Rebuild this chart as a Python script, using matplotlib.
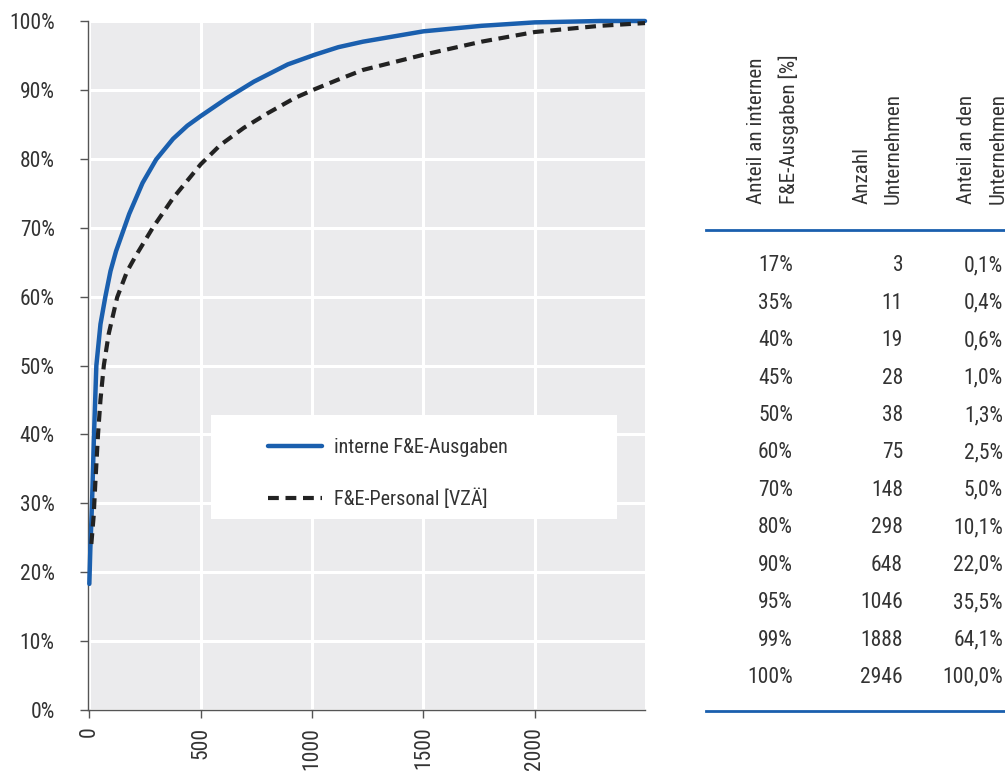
import matplotlib
matplotlib.use("Agg")
import matplotlib.pyplot as plt
from matplotlib import font_manager
from matplotlib.patches import Rectangle
from matplotlib.lines import Line2D

# pick a condensed face if one is installed
_names = {f.name for f in font_manager.fontManager.ttflist}
_cond = [f for f in font_manager.fontManager.ttflist
         if f.name == "DejaVu Sans" and "condensed" in str(f.stretch).lower()]
FAMILY = None
for cand in ["Roboto Condensed", "Open Sans Condensed", "Liberation Sans Narrow",
             "Arial Narrow", "Noto Sans Condensed"]:
    if cand in _names:
        FAMILY = cand
        break
STRETCH = "normal"
if FAMILY is None:
    FAMILY = "DejaVu Sans"
    if _cond:
        STRETCH = "condensed"
plt.rcParams['font.family'] = [FAMILY, 'DejaVu Sans']
plt.rcParams['font.stretch'] = STRETCH

# ---- data ----
spend_x = [0, 4.5, 12, 21, 31.5, 50, 72, 95, 120, 179, 239, 300, 376, 440, 500, 618,
           739, 891, 1012, 1118, 1229, 1500, 1761, 2000, 2293, 2495]
spend_y = [18.3, 23.4, 30, 40, 50, 56, 60, 63.7, 66.6, 72.0, 76.5, 79.9, 82.9, 84.8, 86.2,
           88.8, 91.2, 93.7, 95.1, 96.2, 97.0, 98.5, 99.3, 99.8, 100, 100]

staff_x = [9, 19.5, 27, 39, 50, 65, 87, 125, 170, 210, 285, 376, 500, 588, 694, 800, 921,
           1012, 1118, 1229, 1500, 1761, 2000, 2293, 2495]
staff_y = [24.1, 28.2, 33, 40, 45, 50, 54.6, 59.9, 63.7, 66.0, 70.0, 74.3, 79.2, 82.0, 84.5,
           86.6, 88.8, 90.1, 91.5, 92.9, 95.1, 97.0, 98.4, 99.3, 99.7]

series_labels = ["interne F&E-Ausgaben", "F&E-Personal [VZÄ]"]

y_ticks = [0, 10, 20, 30, 40, 50, 60, 70, 80, 90, 100]
y_ticklabels = ["0%", "10%", "20%", "30%", "40%", "50%", "60%", "70%", "80%", "90%", "100%"]
x_ticks = [0, 500, 1000, 1500, 2000]

tbl_header = ["Anteil an internen\nF&E-Ausgaben [%]", "Anzahl\nUnternehmen",
              "Anteil an den\nUnternehmen"]
tbl_share = ["17%", "35%", "40%", "45%", "50%", "60%", "70%", "80%", "90%", "95%", "99%", "100%"]
tbl_count = [3, 11, 19, 28, 38, 75, 148, 298, 648, 1046, 1888, 2946]
tbl_pct = ["0,1%", "0,4%", "0,6%", "1,0%", "1,3%", "2,5%", "5,0%", "10,1%", "22,0%",
           "35,5%", "64,1%", "100,0%"]

# ---- figure ----
W, H = 1005, 773
fig = plt.figure(figsize=(W / 100, H / 100), dpi=100)
ax = fig.add_axes([88 / W, (H - 710) / H, (645 - 88) / W, (710 - 21) / H])

BLUE = "#1a5fae"
DARK = "#222222"
TXT = "#333333"
FS = 15.5
ax.set_facecolor("#ebebed")
ax.set_xlim(-6, 2495)
ax.set_ylim(0, 100)
ax.grid(True, color="white", linewidth=2.2)
ax.set_axisbelow(True)
for s in ["top", "right"]:
    ax.spines[s].set_visible(False)
for s in ["left", "bottom"]:
    ax.spines[s].set_color("#555555")
    ax.spines[s].set_linewidth(1.0)

ax.set_yticks(y_ticks)
ax.set_yticklabels(y_ticklabels)
ax.set_xticks(x_ticks)
ax.set_xticklabels([str(v) for v in x_ticks], rotation=90)
ax.tick_params(axis="both", colors="#555555", labelcolor=TXT, labelsize=FS,
               length=6, width=1.0)
ax.tick_params(axis="x", pad=6)
ax.tick_params(axis="y", pad=18)

ax.plot(spend_x, spend_y, color=BLUE, linewidth=3.2, solid_capstyle="round",
        solid_joinstyle="round", zorder=3, clip_on=False)
ax.plot(staff_x, staff_y, color=DARK, linewidth=3.0, dashes=(2.6, 1.6),
        dash_capstyle="butt", zorder=3, clip_on=False)

# legend box
ax.add_patch(Rectangle((0.221, 0.277), 0.729, 0.151, transform=ax.transAxes,
                       facecolor="white", edgecolor="none", zorder=2))
handles = [Line2D([], [], color=BLUE, linewidth=3.2, solid_capstyle="round"),
           Line2D([], [], color=DARK, linewidth=3.0, dashes=(2.6, 1.6))]
leg = ax.legend(handles, series_labels, loc="upper left",
                bbox_to_anchor=(0.29, 0.421), frameon=False, fontsize=14.5,
                handlelength=2.7, handletextpad=0.6, labelspacing=1.55,
                labelcolor=TXT)
leg.set_zorder(4)

# ---- table ----
def fx(px):
    return px / W

def fy(py):
    return 1 - py / H

header_x = [(756.7, 788.5), (861.7, 893.5), (966.7, 998.0)]
for hdr, xs in zip(tbl_header, header_x):
    for line, x in zip(hdr.split("\n"), xs):
        fig.text(fx(x), fy(204), line, rotation=90, ha="center", va="bottom",
                 fontsize=15.2, color=TXT)

fig.add_artist(Line2D([fx(706), fx(1005)], [fy(230), fy(230)], color=BLUE, linewidth=2.0))
fig.add_artist(Line2D([fx(706), fx(1005)], [fy(711), fy(711)], color=BLUE, linewidth=2.0))

row0, dy = 266, 37.4
for i, (a, b, c) in enumerate(zip(tbl_share, tbl_count, tbl_pct)):
    y = fy(row0 + i * dy)
    fig.text(fx(793), y, a, ha="right", va="center", fontsize=FS, color=TXT)
    fig.text(fx(903), y, str(b), ha="right", va="center", fontsize=FS, color=TXT)
    fig.text(fx(1003), y, c, ha="right", va="center", fontsize=FS, color=TXT)

fig.savefig("out.png", dpi=100, facecolor="white")
